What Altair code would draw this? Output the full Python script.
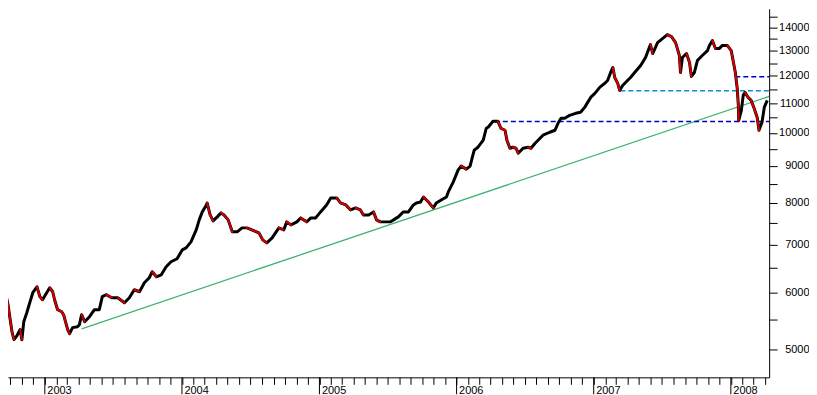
import altair as alt
import pandas as pd

# ---- price series (log scale) ----
dates = [
    "2002-09-04", "2002-09-12", "2002-09-20", "2002-09-25", "2002-09-30", "2002-10-06",
    "2002-10-11", "2002-10-19", "2002-10-27", "2002-11-01", "2002-11-06", "2002-11-14",
    "2002-11-22", "2002-11-30", "2002-12-11", "2002-12-19", "2002-12-26", "2003-01-06",
    "2003-01-14", "2003-01-22", "2003-01-27", "2003-02-04", "2003-02-15", "2003-02-20",
    "2003-02-25", "2003-03-03", "2003-03-08", "2003-03-16", "2003-03-29", "2003-04-03",
    "2003-04-09", "2003-04-17", "2003-04-30", "2003-05-13", "2003-05-26", "2003-06-03",
    "2003-06-14", "2003-06-28", "2003-07-14", "2003-08-01", "2003-08-14", "2003-08-27",
    "2003-09-10", "2003-09-23", "2003-10-06", "2003-10-14", "2003-10-25", "2003-11-07",
    "2003-11-20", "2003-12-03", "2003-12-19", "2004-01-02", "2004-01-12", "2004-01-25",
    "2004-02-08", "2004-02-16", "2004-02-24", "2004-03-06", "2004-03-08", "2004-03-16",
    "2004-03-24", "2004-04-04", "2004-04-14", "2004-04-22", "2004-05-03", "2004-05-14",
    "2004-05-27", "2004-06-09", "2004-06-22", "2004-07-05", "2004-07-24", "2004-08-03",
    "2004-08-14", "2004-08-28", "2004-09-15", "2004-09-28", "2004-10-06", "2004-10-17",
    "2004-11-02", "2004-11-12", "2004-11-28", "2004-12-09", "2004-12-22", "2005-01-04",
    "2005-01-20", "2005-01-31", "2005-02-16", "2005-02-26", "2005-03-12", "2005-03-25",
    "2005-04-07", "2005-04-20", "2005-04-28", "2005-05-12", "2005-05-25", "2005-06-02",
    "2005-06-12", "2005-06-26", "2005-07-09", "2005-07-17", "2005-07-30", "2005-08-12",
    "2005-08-26", "2005-09-08", "2005-09-16", "2005-09-27", "2005-10-05", "2005-10-18",
    "2005-10-31", "2005-11-08", "2005-11-21", "2005-12-05", "2005-12-10", "2005-12-23",
    "2006-01-05", "2006-01-13", "2006-01-27", "2006-02-06", "2006-02-12", "2006-02-17",
    "2006-02-27", "2006-03-13", "2006-03-21", "2006-03-26", "2006-04-08", "2006-04-21",
    "2006-04-29", "2006-05-10", "2006-05-15", "2006-05-23", "2006-05-31", "2006-06-08",
    "2006-06-14", "2006-06-27", "2006-07-10", "2006-07-18", "2006-07-29", "2006-08-06",
    "2006-08-19", "2006-09-06", "2006-09-20", "2006-09-28", "2006-10-06", "2006-10-16",
    "2006-10-29", "2006-11-14", "2006-11-27", "2006-12-08", "2006-12-16", "2006-12-24",
    "2007-01-04", "2007-01-17", "2007-01-30", "2007-02-07", "2007-02-15", "2007-02-21",
    "2007-02-26", "2007-03-06", "2007-03-11", "2007-03-19", "2007-04-01", "2007-04-09",
    "2007-04-20", "2007-05-06", "2007-05-19", "2007-06-01", "2007-06-07", "2007-06-20",
    "2007-07-03", "2007-07-16", "2007-07-27", "2007-08-07", "2007-08-17", "2007-08-20",
    "2007-08-25", "2007-09-05", "2007-09-13", "2007-09-18", "2007-09-26", "2007-10-04",
    "2007-10-17", "2007-10-31", "2007-11-05", "2007-11-13", "2007-11-21", "2007-12-01",
    "2007-12-09", "2007-12-23", "2008-01-02", "2008-01-08", "2008-01-13", "2008-01-18",
    "2008-01-21", "2008-01-22", "2008-01-29", "2008-02-03", "2008-02-08", "2008-02-16",
    "2008-02-24", "2008-03-03", "2008-03-11", "2008-03-16", "2008-03-24", "2008-03-30",
    "2008-04-07",
]
closes = [
    6116, 6057, 5944, 5776, 5542, 5281,
    5164, 5233, 5332, 5164, 5469, 5628,
    5812, 6000, 6116, 5924, 5867, 6000,
    6096, 6019, 5867, 5683, 5646, 5593,
    5469, 5330, 5265, 5366, 5383, 5417,
    5593, 5469, 5557, 5683, 5683, 5924,
    5962, 5905, 5905, 5812, 5905, 6057,
    6019, 6194, 6294, 6416, 6314, 6354,
    6519, 6624, 6688, 6882, 6926, 7060,
    7335, 7573, 7768, 7944, 7994, 7694,
    7549, 7646, 7744, 7694, 7573, 7289,
    7289, 7382, 7382, 7335, 7265, 7105,
    7037, 7150, 7382, 7335, 7525, 7453,
    7525, 7621, 7525, 7621, 7621, 7768,
    7944, 8123, 8123, 7994, 7944, 7818,
    7868, 7818, 7694, 7694, 7768, 7573,
    7525, 7525, 7525, 7573, 7646, 7768,
    7768, 7944, 7994, 8020, 8149, 8020,
    7868, 7994, 8071, 8149, 8280, 8546,
    8879, 8992, 8907, 8992, 9254, 9463,
    9553, 9769, 10150, 10182, 10378, 10378,
    10150, 10085, 9769, 9522, 9553, 9522,
    9372, 9522, 9553, 9522, 9676, 9769,
    9926, 10021, 10085, 10312, 10478, 10478,
    10578, 10646, 10680, 10851, 11025, 11202,
    11346, 11565, 11713, 11826, 12131, 12326,
    11939, 11713, 11455, 11639, 11826, 11939,
    12131, 12404, 12725, 13262, 12888, 13347,
    13518, 13692, 13605, 13347, 12806, 12131,
    12725, 12888, 12524, 11978, 12131, 12603,
    12806, 13011, 13220, 13432, 13094, 13094,
    13220, 13220, 13011, 12524, 12131, 11528,
    10920, 10400, 10748, 11274, 11382, 11202,
    11096, 10817, 10511, 10085, 10345, 10851,
    11096,
]

# ---- horizontal support / resistance levels ----
level_starts = ["2006-04-13", "2007-03-13", "2008-01-13"]
level_ends = ["2008-04-12", "2008-04-12", "2008-04-12"]
level_values = [10370, 11445, 11970]
level_colors = ["#0000cc", "#0a8fd0", "#0000cc"]

# ---- long-term trend line ----
trend_dates = ["2003-04-09", "2008-04-12"]
trend_values = [5346, 11238]

# ---- axes ----
year_starts = ["2003-01-01", "2004-01-01", "2005-01-01", "2006-01-01", "2007-01-01", "2008-01-01"]
y_tick_values = [5000, 5500, 6000, 6500, 7000, 7500, 8000, 8500, 9000, 9500,
                 10000, 10500, 11000, 11500, 12000, 12500, 13000, 13500, 14000, 14500]
y_domain = [4578, 14873]

W, H = 764, 370

price = pd.DataFrame({"date": pd.to_datetime(dates), "value": closes})
seg = price.copy()
seg["date2"] = seg["date"].shift(-1)
seg["value2"] = seg["value"].shift(-1)
seg = seg.dropna()
down = seg[seg["value2"] < seg["value"]].copy()

levels = pd.DataFrame({
    "start": pd.to_datetime(level_starts),
    "end": pd.to_datetime(level_ends),
    "value": level_values,
    "color": level_colors,
})
trend = pd.DataFrame({"date": pd.to_datetime(trend_dates), "value": trend_values})
years = pd.DataFrame({"date": pd.to_datetime(year_starts)})

xscale = alt.Scale(domain=[alt.DateTime(year=2002, month=9, date=25),
                           alt.DateTime(year=2008, month=4, date=12)])
yscale = alt.Scale(type="log", domain=y_domain, nice=False)

xaxis = alt.Axis(
    title=None, grid=False, orient="bottom",
    tickCount={"interval": "month", "step": 1},
    labelExpr="month(datum.value) == 0 ? timeFormat(datum.value, '%Y') : ''",
    labelAlign="left", labelBaseline="top", labelOffset=2, labelPadding=0,
    labelOverlap=False, labelFlush=False, tickSize=7,
)
yaxis = alt.Axis(
    title=None, grid=False, orient="right", values=y_tick_values,
    labelExpr="datum.value % 1000 == 0 ? format(datum.value, 'd') : ''",
    labelAlign="right", labelBaseline="middle", labelPadding=32, tickSize=8,
    labelOverlap=False, labelFlush=False,
)

X = lambda f: alt.X(f, type="temporal", scale=xscale, axis=xaxis)
Y = lambda f: alt.Y(f, type="quantitative", scale=yscale, axis=yaxis)

trend_layer = alt.Chart(trend).mark_line(color="#3cb371", strokeWidth=1.3, clip=True).encode(
    x=X("date"), y=Y("value"))

level_layer = alt.Chart(levels).mark_rule(strokeWidth=1.5, strokeDash=[5, 3], clip=True).encode(
    x=X("start"), x2="end:T", y=Y("value"),
    color=alt.Color("color:N", scale=None))

price_layer = alt.Chart(price).mark_line(color="black", strokeWidth=3, strokeJoin="round", clip=True).encode(
    x=X("date"), y=Y("value"))

down_layer = alt.Chart(down).mark_rule(color="#d40000", strokeWidth=2, strokeCap="round", clip=True).encode(
    x=X("date"), x2="date2:T", y=Y("value"), y2="value2:Q")

year_ticks = alt.Chart(years).mark_rule(color="black", strokeWidth=1).encode(
    x=X("date"), y=alt.value(H), y2=alt.value(H + 17))

chart = alt.layer(trend_layer, level_layer, price_layer, down_layer, year_ticks).properties(
    width=W, height=H, padding=0, background="white"
).configure_view(stroke=None).configure_axis(
    labelFont="Liberation Sans", labelFontSize=11, labelColor="black",
    domainColor="black", tickColor="black", domainWidth=1, tickWidth=1,
)

chart.save("out.html", embed_options={"renderer": "svg", "actions": False})
